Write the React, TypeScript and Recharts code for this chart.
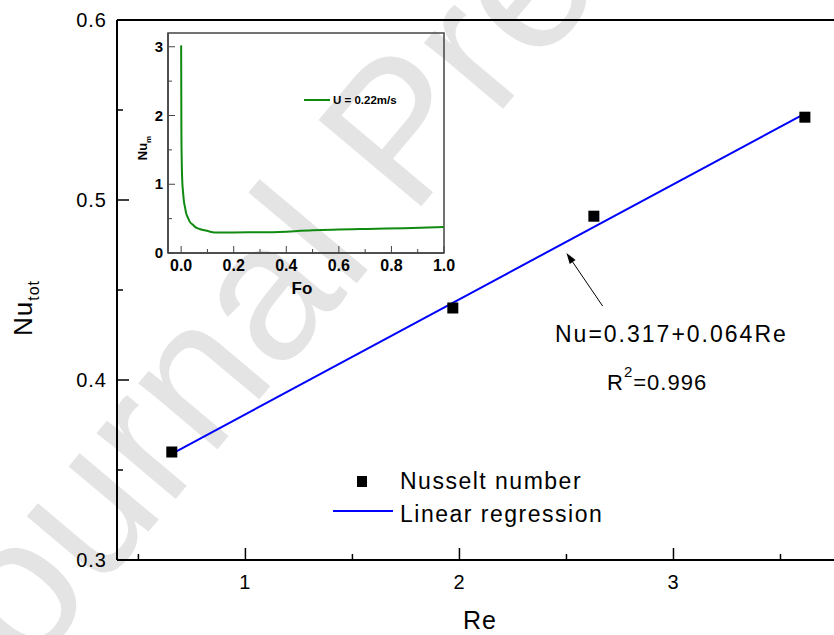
import React from 'react';
import {
  ComposedChart,
  LineChart,
  Line,
  Scatter,
  XAxis,
  YAxis,
  ReferenceLine,
  ReferenceArea,
} from 'recharts';

// Main plot: total Nusselt number against Re
const RE_VALUES = [0.656, 1.969, 2.628, 3.614];
const NU_VALUES = [0.36, 0.44, 0.491, 0.546];

// Regression line end points (Nu = 0.317 + 0.064 Re)
const FIT_RE = [0.656, 3.614];
const FIT_NU = [0.359, 0.548];

const RE_TICKS = [0.5, 1, 1.5, 2, 2.5, 3, 3.5];
const NU_TICKS = [0.3, 0.35, 0.4, 0.45, 0.5, 0.55, 0.6];

// Arrow pointing at the fit line
const ARROW_FROM = { x: 2.669, y: 0.4411 };
const ARROW_TO = { x: 2.5, y: 0.4706 };

// Inset: Nu_m against Fo
const FO_VALUES = [0, 0.001, 0.002, 0.004, 0.007, 0.01, 0.015, 0.019, 0.025, 0.032, 0.045, 0.057, 0.07, 0.089, 0.105, 0.127, 0.2, 0.33, 0.5, 0.71, 0.85, 1.0];
const NUM_VALUES = [3.02, 1.75, 1.4, 1.07, 0.9, 0.77, 0.66, 0.58, 0.52, 0.46, 0.41, 0.37, 0.35, 0.33, 0.315, 0.3, 0.3, 0.302, 0.33, 0.35, 0.36, 0.38];
const FO_TICKS = [0, 0.1, 0.2, 0.3, 0.4, 0.5, 0.6, 0.7, 0.8, 0.9, 1.0];
const NUM_TICKS = [0, 0.5, 1, 1.5, 2, 2.5, 3];

const FONT = '"Liberation Sans", Arial, sans-serif';

const points = RE_VALUES.map((x, i) => ({ x, y: NU_VALUES[i] }));
const fitLine = FIT_RE.map((x, i) => ({ x, y: FIT_NU[i] }));
const insetData = FO_VALUES.map((fo, i) => ({ fo, nu: NUM_VALUES[i] }));

const isWhole = (v: number, step: number) =>
  Math.abs(v / step - Math.round(v / step)) < 1e-6;

function MainXTick(props: any) {
  const { x, y, payload } = props;
  const major = isWhole(payload.value, 1);
  return (
    <g>
      <line x1={x} x2={x} y1={y} y2={y - (major ? 12 : 6)} stroke="#000" strokeWidth={1.5} />
      {major && (
        <text x={x} y={y + 29} textAnchor="middle" fontSize={20} fontFamily={FONT} letterSpacing={1} fill="#000">
          {payload.value}
        </text>
      )}
    </g>
  );
}

function MainYTick(props: any) {
  const { x, y, payload } = props;
  const major = isWhole(payload.value, 0.1);
  return (
    <g>
      <line x1={x} x2={x + (major ? 12 : 6)} y1={y} y2={y} stroke="#000" strokeWidth={1.5} />
      {major && (
        <text x={x - 10} y={y + 7} textAnchor="end" fontSize={20} fontFamily={FONT} letterSpacing={1} fill="#000">
          {payload.value.toFixed(1)}
        </text>
      )}
    </g>
  );
}

function InsetXTick(props: any) {
  const { x, y, payload } = props;
  const major = isWhole(payload.value, 0.2);
  return (
    <g>
      <line x1={x} x2={x} y1={y} y2={y - (major ? 7 : 4)} stroke="#444" strokeWidth={1} />
      {major && (
        <text x={x} y={y + 18} textAnchor="middle" fontSize={16} fontWeight="bold" fontFamily={FONT} fill="#000">
          {payload.value.toFixed(1)}
        </text>
      )}
    </g>
  );
}

function InsetYTick(props: any) {
  const { x, y, payload } = props;
  const major = isWhole(payload.value, 1);
  return (
    <g>
      <line x1={x} x2={x + (major ? 7 : 4)} y1={y} y2={y} stroke="#444" strokeWidth={1} />
      {major && (
        <text x={x - 5} y={y + 5} textAnchor="end" fontSize={15} fontWeight="bold" fontFamily={FONT} fill="#000">
          {payload.value}
        </text>
      )}
    </g>
  );
}

function SquareDot(props: any) {
  const { cx, cy } = props;
  return <rect x={cx - 5.5} y={cy - 5.5} width={11} height={11} fill="#000" />;
}

function ArrowShape(props: any) {
  const { x1, y1, x2, y2 } = props;
  const a = Math.atan2(y2 - y1, x2 - x1);
  const len = 11;
  const w = 3.5;
  const bx = x2 - len * Math.cos(a);
  const by = y2 - len * Math.sin(a);
  const head = [
    `${x2},${y2}`,
    `${bx + w * Math.sin(a)},${by - w * Math.cos(a)}`,
    `${bx - w * Math.sin(a)},${by + w * Math.cos(a)}`,
  ].join(' ');
  return (
    <g>
      <line x1={x1} y1={y1} x2={bx} y2={by} stroke="#000" strokeWidth={1} />
      <polygon points={head} fill="#000" />
    </g>
  );
}

export default function App() {
  return (
    <div style={{ position: 'absolute', left: 0, top: 0, width: 834, height: 635, overflow: 'hidden', background: '#fff' }}>
      {/* watermark */}
      <svg width={834} height={635} style={{ position: 'absolute', left: 0, top: 0 }}>
        <text
          transform="translate(-35, 750) rotate(-50)"
          fontSize={195}
          fontFamily={FONT}
          fill="#e4e4e4"
        >
          Journal Pre-proof
        </text>
      </svg>

      <div style={{ position: 'absolute', left: 0, top: 0 }}>
        <ComposedChart width={834} height={635} margin={{ top: 20, right: 0, bottom: 0, left: 0 }}>
          <XAxis
            type="number"
            dataKey="x"
            domain={[0.4, 3.75]}
            ticks={RE_TICKS}
            allowDataOverflow
            height={75}
            tickSize={0}
            tickMargin={0}
            tickLine={false}
            tick={<MainXTick />}
            axisLine={{ stroke: '#000', strokeWidth: 2 }}
            interval={0}
          />
          <YAxis
            type="number"
            dataKey="y"
            domain={[0.3, 0.6]}
            ticks={NU_TICKS}
            allowDataOverflow
            width={117}
            tickSize={0}
            tickMargin={0}
            tickLine={false}
            tick={<MainYTick />}
            axisLine={{ stroke: '#000', strokeWidth: 2 }}
            interval={0}
          />
          <ReferenceLine y={0.6} stroke="#000" strokeWidth={2} />
          <ReferenceLine segment={[ARROW_FROM, ARROW_TO]} shape={<ArrowShape />} />
          <Scatter
            data={fitLine}
            line={{ stroke: '#0000ff', strokeWidth: 2 }}
            shape={() => <g />}
            isAnimationActive={false}
          />
          <Scatter data={points} shape={<SquareDot />} isAnimationActive={false} />
        </ComposedChart>
      </div>

      {/* inset */}
      <div style={{ position: 'absolute', left: 120, top: 20 }}>
        <LineChart width={340} height={290} data={insetData} margin={{ top: 13, right: 16, bottom: 0, left: 0 }}>
          <XAxis
            type="number"
            dataKey="fo"
            domain={[-0.05, 1.0]}
            ticks={FO_TICKS}
            allowDataOverflow
            height={57}
            tickSize={0}
            tickMargin={0}
            tickLine={false}
            tick={<InsetXTick />}
            axisLine={{ stroke: '#444', strokeWidth: 1.5 }}
            interval={0}
          />
          <YAxis
            type="number"
            domain={[0, 3.2]}
            ticks={NUM_TICKS}
            allowDataOverflow
            width={48}
            tickSize={0}
            tickMargin={0}
            tickLine={false}
            tick={<InsetYTick />}
            axisLine={{ stroke: '#444', strokeWidth: 1.5 }}
            interval={0}
          />
          <ReferenceArea x1={-0.05} x2={1.0} y1={0} y2={3.2} fill="none" stroke="#444" strokeWidth={1.5} />
          <Line
            type="monotone"
            dataKey="nu"
            stroke="#108a10"
            strokeWidth={2}
            dot={false}
            isAnimationActive={false}
          />
        </LineChart>
      </div>

      {/* texts, legend */}
      <svg width={834} height={635} style={{ position: 'absolute', left: 0, top: 0, pointerEvents: 'none' }}>
        <text x={480} y={629} textAnchor="middle" fontSize={25} fontFamily={FONT} letterSpacing={1}>Re</text>
        <text transform="translate(32, 308) rotate(-90)" textAnchor="middle" fontSize={26} fontFamily={FONT} letterSpacing={1}>
          Nu<tspan fontSize={16} dy={7}>tot</tspan>
        </text>

        <text x={555} y={342} fontSize={23} fontFamily={FONT} letterSpacing={2}>Nu=0.317+0.064Re</text>
        <text x={607} y={390} fontSize={22} fontFamily={FONT} letterSpacing={1}>
          R<tspan fontSize={15} dy={-13}>2</tspan><tspan dy={13}>=0.996</tspan>
        </text>

        <rect x={357} y={476} width={10} height={11} fill="#000" />
        <text x={400} y={489} fontSize={23} fontFamily={FONT} letterSpacing={1.5}>Nusselt number</text>
        <line x1={333} x2={393} y1={511} y2={511} stroke="#0000ff" strokeWidth={2} />
        <text x={400} y={522} fontSize={23} fontFamily={FONT} letterSpacing={1.5}>Linear regression</text>

        <text x={302} y={294} textAnchor="middle" fontSize={17} fontWeight="bold" fontFamily={FONT}>Fo</text>
        <text transform="translate(147, 148) rotate(-90)" textAnchor="middle" fontSize={13} fontWeight="bold" fontFamily={FONT}>
          Nu<tspan fontSize={8} dy={4}>m</tspan>
        </text>
        <line x1={304} x2={330} y1={100} y2={100} stroke="#108a10" strokeWidth={2} />
        <text x={333} y={104} fontSize={11.5} fontWeight="bold" fontFamily={FONT}>U = 0.22m/s</text>
      </svg>
    </div>
  );
}
